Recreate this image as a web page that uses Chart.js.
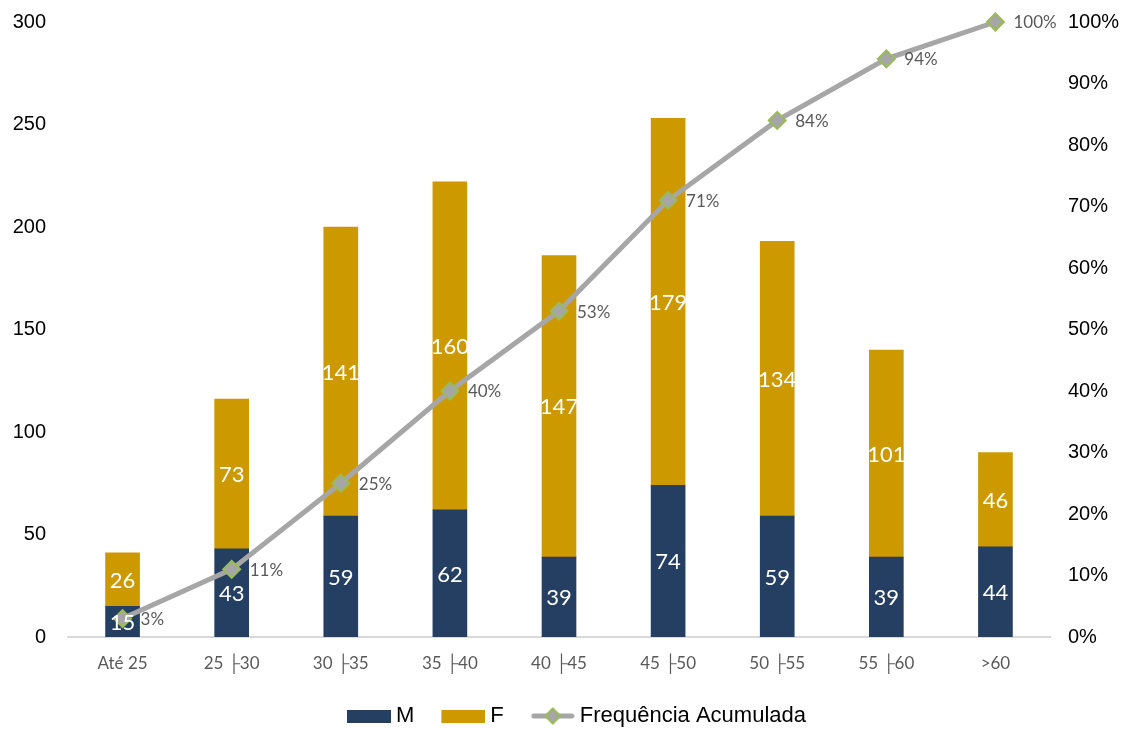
<!DOCTYPE html>
<html>
<head>
<meta charset="utf-8">
<script src="https://cdn.jsdelivr.net/npm/chart.js@4.4.1/dist/chart.umd.min.js"></script>
<style>
  html, body { margin: 0; padding: 0; background: #fff; }
  #chart { display: block; }
</style>
</head>
<body>
<canvas id="chart" width="1132" height="729"></canvas>
<script>
// Data
const categories = ['Até 25', '25 ├30', '30 ├35', '35 ├40', '40 ├45', '45 ├50', '50 ├55', '55 ├60', '>60'];
const masculino = [15, 43, 59, 62, 39, 74, 59, 39, 44];
const feminino = [26, 73, 141, 160, 147, 179, 134, 101, 46];
const acumulada = [3, 11, 25, 40, 53, 71, 84, 94, 100];

const NAVY = '#243F61';
const GOLD = '#CC9900';
const LINE_GRAY = '#A6A6A6';
const MARKER_GREEN = '#9BBB59';

// legend swatches (drawn into small canvases, content sits at the right edge)
const LEG_W = 59; // pointStyleWidth
function swatch(kind) {
  const c = document.createElement('canvas');
  c.width = LEG_W + 12;
  c.height = 18;
  const g = c.getContext('2d');
  const x0 = c.width - 44;
  if (kind === 'line') {
    g.strokeStyle = LINE_GRAY;
    g.lineWidth = 5;
    g.lineCap = 'round';
    g.beginPath();
    g.moveTo(x0 + 3, 9);
    g.lineTo(c.width - 3, 9);
    g.stroke();
    const cx = x0 + 22;
    g.beginPath();
    g.moveTo(cx, 1.5); g.lineTo(cx + 7.5, 9); g.lineTo(cx, 16.5); g.lineTo(cx - 7.5, 9); g.closePath();
    g.fillStyle = LINE_GRAY;
    g.fill();
    g.strokeStyle = MARKER_GREEN;
    g.lineWidth = 2;
    g.stroke();
  } else {
    g.fillStyle = kind;
    g.fillRect(x0, 3, 44, 13);
  }
  return c;
}

// value labels on bars and line points
const valueLabels = {
  id: 'valueLabels',
  afterDatasetsDraw(chart) {
    const ctx = chart.ctx;
    ctx.save();
    chart.data.datasets.forEach((ds, i) => {
      const meta = chart.getDatasetMeta(i);
      meta.data.forEach((el, j) => {
        const v = ds.data[j];
        if (ds.type === 'line') {
          ctx.font = '17px Lato';
          ctx.fillStyle = '#595959';
          ctx.textAlign = 'left';
          ctx.textBaseline = 'middle';
          ctx.fillText(v + '%', el.x + 18, el.y + 1);
        } else {
          ctx.font = '22px Lato';
          ctx.fillStyle = '#ffffff';
          ctx.textAlign = 'center';
          ctx.textBaseline = 'middle';
          ctx.fillText(String(v), el.x, (el.y + el.base) / 2 + 1);
        }
      });
    });
    ctx.restore();
  }
};

const ctx = document.getElementById('chart').getContext('2d');
new Chart(ctx, {
  data: {
    labels: categories,
    datasets: [
      {
        type: 'line',
        label: 'Frequência Acumulada',
        data: acumulada,
        yAxisID: 'y1',
        borderColor: LINE_GRAY,
        borderWidth: 5,
        backgroundColor: LINE_GRAY,
        pointStyle: 'rectRot',
        pointRadius: 8.5,
        pointBackgroundColor: LINE_GRAY,
        pointBorderColor: MARKER_GREEN,
        pointBorderWidth: 2,
        tension: 0,
        clip: false,
        order: 0
      },
      {
        type: 'bar',
        label: 'M',
        data: masculino,
        backgroundColor: NAVY,
        stack: 's',
        barThickness: 34,
        order: 1
      },
      {
        type: 'bar',
        label: 'F',
        data: feminino,
        backgroundColor: GOLD,
        stack: 's',
        barThickness: 34,
        order: 1
      }
    ]
  },
  options: {
    responsive: false,
    animation: false,
    devicePixelRatio: 1,
    layout: { padding: { top: 22, left: 0, right: 0, bottom: -8 } },
    scales: {
      x: {
        stacked: true,
        grid: { display: false, drawTicks: false },
        border: { display: true, color: '#D9D9D9', width: 2 },
        ticks: { color: '#595959', font: { family: 'Lato', size: 17 }, padding: 16, maxRotation: 0 },
        afterFit: s => { s.height = 62; }
      },
      y: {
        stacked: true,
        position: 'left',
        min: 0,
        max: 300,
        grid: { display: false, drawTicks: false },
        border: { display: false },
        ticks: { stepSize: 50, color: '#000', font: { family: 'Liberation Sans', size: 20 }, padding: 22 },
        afterFit: s => { s.width = 68; s.paddingTop = 10; s.paddingBottom = 10; }
      },
      y1: {
        position: 'right',
        min: 0,
        max: 100,
        grid: { display: false, drawTicks: false },
        border: { display: false },
        ticks: { stepSize: 10, color: '#000', font: { family: 'Liberation Sans', size: 20 }, padding: 18,
                 callback: v => v + '%' },
        afterFit: s => { s.width = 82; s.paddingTop = 10; s.paddingBottom = 10; }
      }
    },
    plugins: {
      tooltip: { enabled: false },
      legend: {
        position: 'bottom',
        labels: {
          usePointStyle: true,
          pointStyleWidth: LEG_W,
          padding: 6,
          color: '#000',
          font: { family: 'Liberation Sans', size: 22 },
          sort: (a, b) => ['M', 'F', 'Frequência Acumulada'].indexOf(a.text) - ['M', 'F', 'Frequência Acumulada'].indexOf(b.text),
          generateLabels: chart => {
            const items = Chart.defaults.plugins.legend.labels.generateLabels(chart);
            items.forEach(it => {
              if (it.text === 'M') it.pointStyle = swatch(NAVY);
              else if (it.text === 'F') it.pointStyle = swatch(GOLD);
              else it.pointStyle = swatch('line');
            });
            return items;
          }
        }
      }
    }
  },
  plugins: [valueLabels]
});
</script>
</body>
</html>
